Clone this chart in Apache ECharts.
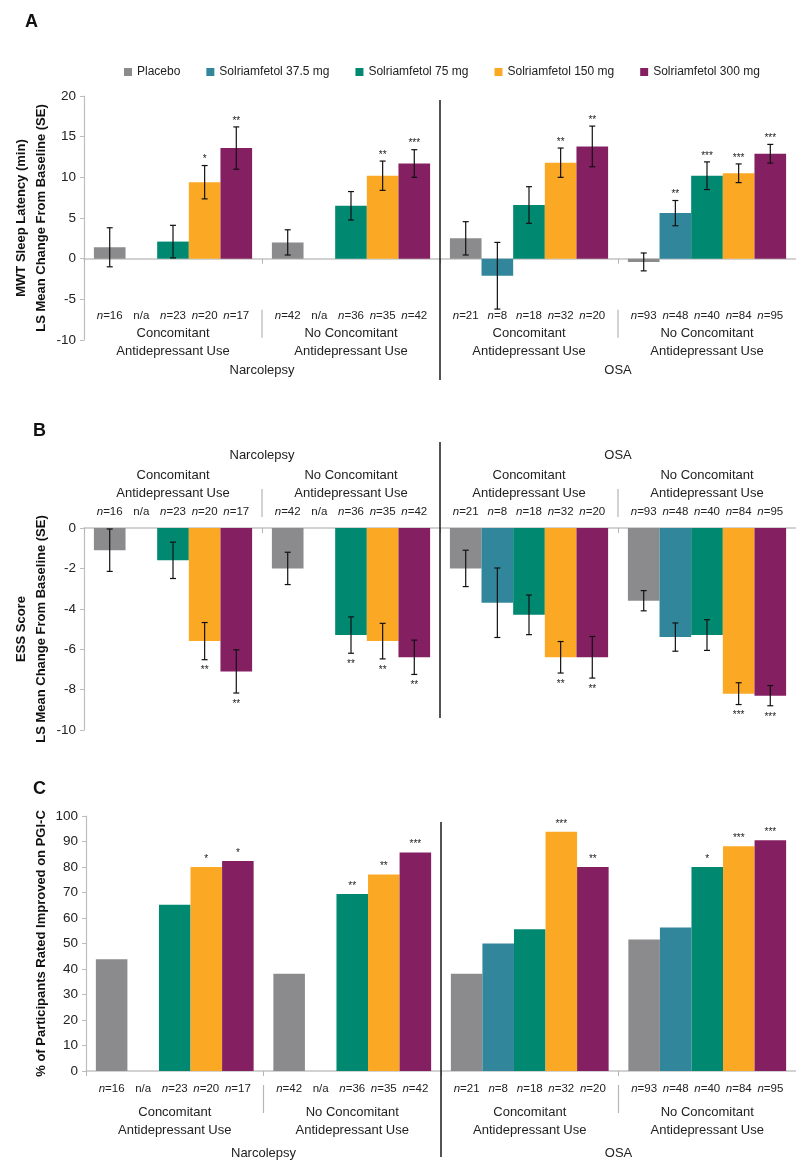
<!DOCTYPE html>
<html>
<head>
<meta charset="utf-8">
<script src="https://cdn.jsdelivr.net/npm/echarts@6/dist/echarts.min.js"></script>
<style>
html, body { margin: 0; padding: 0; background: #fff; }
#main { width: 796px; height: 1163px; }
</style>
</head>
<body>
<div id="main"></div>
<script>
// categories
var groups = ['Concomitant\nAntidepressant Use', 'No Concomitant\nAntidepressant Use',
              'Concomitant\nAntidepressant Use', 'No Concomitant\nAntidepressant Use'];
var diseases = ['Narcolepsy', 'OSA'];
var treatments = ['Placebo', 'Solriamfetol 37.5 mg', 'Solriamfetol 75 mg', 'Solriamfetol 150 mg', 'Solriamfetol 300 mg'];
var colors = ['#8b8b8d', '#31869c', '#018871', '#fba925', '#842061'];

// sample sizes (null = n/a)
var nPlacebo = [16, 42, 21, 93];
var n375 = [null, null, 8, 48];
var n75 = [23, 36, 18, 40];
var n150 = [20, 35, 32, 84];
var n300 = [17, 42, 20, 95];

// A: MWT sleep latency, LS mean change (SE)
var mwtPlacebo = [1.4, 2.0, 2.5, -0.4];
var mwt375 = [null, null, -2.1, 5.6];
var mwt75 = [2.1, 6.5, 6.6, 10.2];
var mwt150 = [9.4, 10.2, 11.8, 10.5];
var mwt300 = [13.6, 11.7, 13.8, 12.9];
var mwtSePlacebo = [2.4, 1.55, 2.05, 1.1];
var mwtSe375 = [null, null, 4.1, 1.55];
var mwtSe75 = [2.0, 1.75, 2.25, 1.7];
var mwtSe150 = [2.05, 1.8, 1.8, 1.15];
var mwtSe300 = [2.6, 1.7, 2.5, 1.15];
var mwtStars375 = ['', '', '', '**'];
var mwtStars75 = ['', '', '', '***'];
var mwtStars150 = ['*', '**', '**', '***'];
var mwtStars300 = ['**', '***', '**', '***'];

// B: ESS score, LS mean change (SE)
var essPlacebo = [-1.1, -2.0, -2.0, -3.6];
var ess375 = [null, null, -3.7, -5.4];
var ess75 = [-1.6, -5.3, -4.3, -5.3];
var ess150 = [-5.6, -5.6, -6.4, -8.2];
var ess300 = [-7.1, -6.4, -6.4, -8.3];
var essSePlacebo = [1.05, 0.8, 0.9, 0.5];
var essSe375 = [null, null, 1.72, 0.7];
var essSe75 = [0.9, 0.9, 0.98, 0.76];
var essSe150 = [0.92, 0.88, 0.78, 0.54];
var essSe300 = [1.07, 0.85, 1.03, 0.5];
var essStars75 = ['', '**', '', ''];
var essStars150 = ['**', '**', '**', '***'];
var essStars300 = ['**', '**', '**', '***'];

// C: % rated improved on PGI-C
var pgicPlacebo = [43.8, 38.1, 38.1, 51.6];
var pgic375 = [null, null, 50.0, 56.3];
var pgic75 = [65.2, 69.4, 55.6, 80.0];
var pgic150 = [80.0, 77.1, 93.8, 88.1];
var pgic300 = [82.4, 85.7, 80.0, 90.5];
var pgicStars75 = ['', '**', '', '*'];
var pgicStars150 = ['*', '**', '***', '***'];
var pgicStars300 = ['*', '***', '**', '***'];

var noStars = ['', '', '', ''];
var nAll = [nPlacebo, n375, n75, n150, n300];

var FONT = "'Liberation Sans', Arial, sans-serif";
var TXT = '#222';
var CAT_GAP = 1 / 9;

var panels = [
  {
    label: 'A', labelPos: [20, 8],
    means: [mwtPlacebo, mwt375, mwt75, mwt150, mwt300],
    ses: [mwtSePlacebo, mwtSe375, mwtSe75, mwtSe150, mwtSe300],
    stars: [noStars, mwtStars375, mwtStars75, mwtStars150, mwtStars300],
    grid: { left: 84, right: -8, top: 96, height: 244 },
    y: { min: -10, max: 20, interval: 5 },
    yName: 'MWT Sleep Latency (min)\nLS Mean Change From Baseline (SE)', nameGap: 33,
    xPos: 'bottom', groupMargin: -16, diseaseMargin: 24,
    nOff: 57, greyFrom: 51, greyTo: 79, blackTop: 4, blackBottom: 40
  },
  {
    label: 'B', labelPos: [28, 417],
    means: [essPlacebo, ess375, ess75, ess150, ess300],
    ses: [essSePlacebo, essSe375, essSe75, essSe150, essSe300],
    stars: [noStars, noStars, essStars75, essStars150, essStars300],
    grid: { left: 84, right: -8, top: 528, height: 202 },
    y: { min: -10, max: 0, interval: 2 },
    yName: 'ESS Score\nLS Mean Change From Baseline (SE)', nameGap: 33,
    xPos: 'top', groupMargin: 26, diseaseMargin: 66,
    nOff: -16, greyFrom: -39, greyTo: -11, blackTop: -86, blackBottom: -12
  },
  {
    label: 'C', labelPos: [28, 775],
    means: [pgicPlacebo, pgic375, pgic75, pgic150, pgic300],
    ses: null,
    stars: [noStars, noStars, pgicStars75, pgicStars150, pgicStars300],
    grid: { left: 86, right: -8, top: 816, height: 255 },
    y: { min: 0, max: 100, interval: 10 },
    yName: '% of Participants Rated Improved on PGI-C', nameGap: 35,
    xPos: 'bottom', groupMargin: 32, diseaseMargin: 76,
    nOff: 18, greyFrom: 14, greyTo: 42, blackTop: 6, blackBottom: 86
  }
];

// error bars, significance stars and n labels, placed via the axes
function marksRenderer(p) {
  return function (params, api) {
    var g = api.value(0), s = api.value(1);
    var v = p.means[s][g];
    var se = p.ses ? p.ses[s][g] : null;
    var band = api.size([1, 0])[0];
    var barW = band * (1 - CAT_GAP) / 5;
    var base = api.coord([g, 0]);
    var x = base[0] + (s - 2) * barW;
    var n = nAll[s][g];
    var children = [{
      type: 'text',
      style: {
        text: n == null ? 'n/a' : '{i|n}=' + n,
        rich: { i: { fontStyle: 'italic', fontSize: 11.5, fontFamily: FONT, fill: TXT } },
        x: x, y: base[1] + p.nOff, align: 'center', verticalAlign: 'middle',
        fontSize: 11.5, fontFamily: FONT, fill: TXT
      }
    }];
    if (v == null) return { type: 'group', children: children };
    var hi = api.coord([g, v]);
    var lo = hi;
    if (se != null) {
      hi = api.coord([g, v + se]);
      lo = api.coord([g, v - se]);
      var st = { stroke: '#111', lineWidth: 1.2 };
      children.push(
        { type: 'line', shape: { x1: x, y1: hi[1], x2: x, y2: lo[1] }, style: st },
        { type: 'line', shape: { x1: x - 3, y1: hi[1], x2: x + 3, y2: hi[1] }, style: st },
        { type: 'line', shape: { x1: x - 3, y1: lo[1], x2: x + 3, y2: lo[1] }, style: st }
      );
    }
    var star = p.stars[s][g];
    if (star) {
      children.push({
        type: 'text',
        style: {
          text: star, x: x, y: v >= 0 ? hi[1] - (se != null ? 6 : 8) : lo[1] + 11,
          align: 'center', verticalAlign: 'middle',
          fontSize: 10, fontFamily: FONT, fill: TXT
        }
      });
    }
    return { type: 'group', children: children };
  };
}

// group separators: black between diseases, grey between subgroups
function dividerRenderer(p) {
  return function (params, api) {
    var b = api.value(0);
    var band = api.size([1, 0])[0];
    var base = api.coord([b, 0]);
    var x = base[0] + band / 2;
    var cs = params.coordSys;
    if (b === 1) {
      return {
        type: 'line',
        shape: { x1: x, y1: cs.y + p.blackTop, x2: x, y2: cs.y + cs.height + p.blackBottom },
        style: { stroke: '#1a1a1a', lineWidth: 1.5 }
      };
    }
    return {
      type: 'line',
      shape: { x1: x, y1: base[1] + p.greyFrom, x2: x, y2: base[1] + p.greyTo },
      style: { stroke: '#b5b5b5', lineWidth: 1.2 }
    };
  };
}

var grid = [], xAxis = [], yAxis = [], series = [], title = [];
panels.forEach(function (p, pi) {
  grid.push(p.grid);
  title.push({ text: p.label, left: p.labelPos[0], top: p.labelPos[1],
    textStyle: { fontSize: 18, fontWeight: 'bold', fontFamily: FONT, color: '#111' } });
  yAxis.push({
    type: 'value', gridIndex: pi, min: p.y.min, max: p.y.max, interval: p.y.interval,
    name: p.yName, nameLocation: 'middle', nameRotate: 90, nameGap: p.nameGap, nameMoveOverlap: false,
    nameTextStyle: { fontSize: 13, fontWeight: 'bold', fontFamily: FONT, color: '#111', lineHeight: 20 },
    axisLine: { show: true, lineStyle: { color: '#bdbdbd', width: 1.2 } },
    axisTick: { show: true, length: 4, lineStyle: { color: '#bdbdbd' } },
    axisLabel: { fontSize: 13.5, fontFamily: FONT, color: TXT, margin: 8 },
    splitLine: { show: false }
  });
});
panels.forEach(function (p, pi) {
  xAxis.push({
    type: 'category', gridIndex: pi, data: groups, position: p.xPos,
    axisLine: { show: true, onZero: true, lineStyle: { color: '#c4c4c4', width: 1.5 } },
    axisTick: { show: true, length: 5, inside: p.xPos === 'top', lineStyle: { color: '#b5b5b5' } },
    axisLabel: { fontSize: 13, fontFamily: FONT, color: TXT, margin: p.groupMargin, lineHeight: 18, interval: 0 },
    splitLine: { show: false }
  });
});
panels.forEach(function (p, pi) {
  xAxis.push({
    type: 'category', gridIndex: pi, data: diseases, position: p.xPos,
    axisLine: { show: false, onZero: false }, axisTick: { show: false },
    axisLabel: { fontSize: 13, fontFamily: FONT, color: TXT, margin: p.diseaseMargin, interval: 0 }
  });
});

panels.forEach(function (p, pi) {
  treatments.forEach(function (t, s) {
    series.push({
      type: 'bar', name: t, xAxisIndex: pi, yAxisIndex: pi,
      barGap: 0, barCategoryGap: (CAT_GAP * 100) + '%',
      itemStyle: { color: colors[s] },
      data: p.means[s].map(function (v) { return v == null ? '-' : v; })
    });
  });
  var items = [];
  for (var g = 0; g < 4; g++) for (var s = 0; s < 5; s++) items.push([g, s, 0]);
  series.push({
    type: 'custom', xAxisIndex: pi, yAxisIndex: pi, clip: false, silent: true, z: 5,
    encode: { x: 0, y: 2 }, renderItem: marksRenderer(p), data: items
  });
  series.push({
    type: 'custom', xAxisIndex: pi, yAxisIndex: pi, clip: false, silent: true, z: 6,
    encode: { x: 0, y: 1 }, renderItem: dividerRenderer(p), data: [[0, 0], [1, 0], [2, 0]]
  });
});

var chart = echarts.init(document.getElementById('main'));
chart.setOption({
  animation: false,
  title: title,
  legend: {
    data: treatments, top: 61, left: 119, itemWidth: 8, itemHeight: 8, itemGap: 26, icon: 'rect',
    textStyle: { fontSize: 12, fontFamily: FONT, color: TXT }
  },
  grid: grid,
  xAxis: xAxis,
  yAxis: yAxis,
  series: series
});
</script>
</body>
</html>
